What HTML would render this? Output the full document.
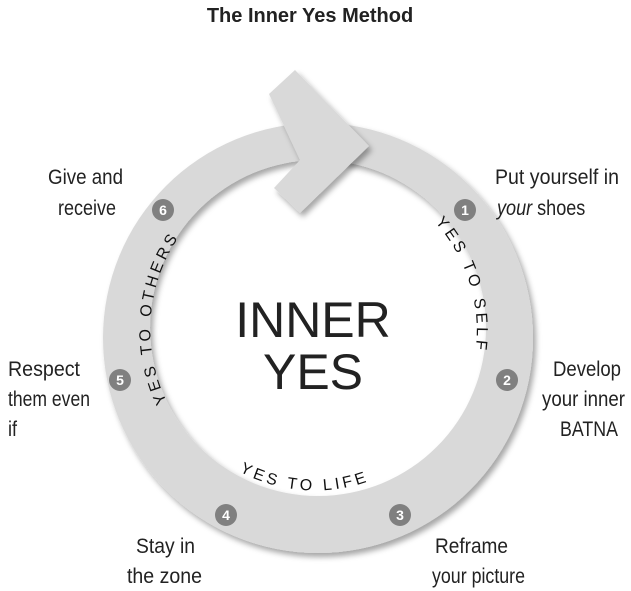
<!DOCTYPE html>
<html><head><meta charset="utf-8"><style>
body{margin:0;background:#fff;}
svg{display:block}
.lbl{font-family:"Liberation Sans",sans-serif;font-size:21px;fill:#222;}
.ring{font-family:"Liberation Sans",sans-serif;font-size:16px;letter-spacing:3.5px;fill:#111;}
.num{font-family:"Liberation Sans",sans-serif;font-weight:bold;font-size:14px;fill:#fff;text-anchor:middle;}
</style></head><body>
<svg width="631" height="591" viewBox="0 0 631 591" xmlns="http://www.w3.org/2000/svg">
<defs>
<filter id="sh" x="-20%" y="-20%" width="140%" height="140%"><feDropShadow dx="3" dy="4" stdDeviation="3" flood-color="#000" flood-opacity="0.35"/></filter>
<path id="pSelf" d="M 435 222 A 162 162 0 0 1 462 398"/>
<path id="pOthers" d="M 167 402 A 165 165 0 0 1 205 207"/>
<path id="pLife" d="M 235 469 A 160 160 0 0 0 395 469"/>
</defs>
<text x="310" y="22" text-anchor="middle" font-family="Liberation Sans,sans-serif" font-size="20" font-weight="bold" fill="#222">The Inner Yes Method</text>
<path fill="#d9d9d9" fill-rule="evenodd" filter="url(#sh)" d="M 103 338 A 215 215 0 1 0 533 338 A 215 215 0 1 0 103 338 Z M 150 328 A 168 168 0 1 1 486 328 A 168 168 0 1 1 150 328 Z"/>
<polygon points="295,70 369,146 300,213 274,188 300,160 269,94" fill="#d9d9d9" filter="url(#sh)"/>
<text x="313" y="337" text-anchor="middle" font-family="Liberation Sans,sans-serif" font-size="50" fill="#222">INNER</text>
<text x="313" y="389" text-anchor="middle" font-family="Liberation Sans,sans-serif" font-size="50" fill="#222">YES</text>
<text class="ring"><textPath href="#pSelf">YES TO SELF</textPath></text>
<text class="ring"><textPath href="#pOthers">YES TO OTHERS</textPath></text>
<text class="ring"><textPath href="#pLife" startOffset="3%">YES TO LIFE</textPath></text>
<g fill="#808080">
<circle cx="465" cy="210" r="11"/><circle cx="507" cy="380" r="11"/><circle cx="400" cy="515" r="11"/>
<circle cx="226" cy="515" r="11"/><circle cx="120" cy="380" r="11"/><circle cx="163" cy="210" r="11"/>
</g>
<text class="num" x="465" y="215">1</text><text class="num" x="507" y="385">2</text><text class="num" x="400" y="520">3</text>
<text class="num" x="226" y="520">4</text><text class="num" x="120" y="385">5</text><text class="num" x="163" y="215">6</text>
<g class="lbl">
<text x="495" y="184" textLength="124" lengthAdjust="spacingAndGlyphs">Put yourself in</text>
<text transform="translate(497 215) scale(0.86 1)"><tspan font-style="italic">your</tspan> shoes</text>
<text x="553" y="376" textLength="68" lengthAdjust="spacingAndGlyphs">Develop</text>
<text x="542" y="406" textLength="83" lengthAdjust="spacingAndGlyphs">your inner</text>
<text x="560" y="436" textLength="58" lengthAdjust="spacingAndGlyphs">BATNA</text>
<text x="435" y="553" textLength="73" lengthAdjust="spacingAndGlyphs">Reframe</text>
<text x="432" y="583" textLength="93" lengthAdjust="spacingAndGlyphs">your picture</text>
<text x="136" y="553" textLength="59" lengthAdjust="spacingAndGlyphs">Stay in</text>
<text x="127" y="583" textLength="75" lengthAdjust="spacingAndGlyphs">the zone</text>
<text x="48" y="184" textLength="75" lengthAdjust="spacingAndGlyphs">Give and</text>
<text x="58" y="215" textLength="58" lengthAdjust="spacingAndGlyphs">receive</text>
<text x="8" y="376" textLength="72" lengthAdjust="spacingAndGlyphs">Respect</text>
<text x="8" y="406" textLength="82" lengthAdjust="spacingAndGlyphs">them even</text>
<text transform="translate(8 436) scale(0.86 1)">if</text>
</g>
</svg>
</body></html>
